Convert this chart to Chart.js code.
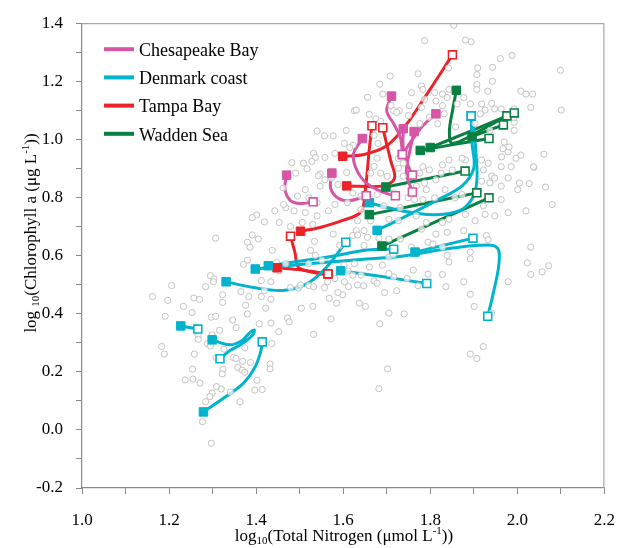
<!DOCTYPE html>
<html><head><meta charset="utf-8">
<script src="https://cdn.jsdelivr.net/npm/chart.js@4.4.0/dist/chart.umd.min.js"></script>
<style>html,body{margin:0;padding:0;background:#fff;}#wrap{width:631px;height:548px;}</style>
</head><body><div id="wrap"><canvas id="c" width="631" height="548"></canvas></div>
<script>
// ---------- DATA ----------
const seriesNames = ['Chesapeake Bay', 'Denmark coast', 'Tampa Bay', 'Wadden Sea'];
const seriesColors = ['#D655A5', '#00B4CD', '#EC2227', '#078041'];
const xTickValues = [1.0, 1.2, 1.4, 1.6, 1.8, 2.0, 2.2];
const yTickValues = [-0.2, 0.0, 0.2, 0.4, 0.6, 0.8, 1.0, 1.2, 1.4];

// background observations: log10 TN and log10 Chl a
const backgroundTN = [
1.540,1.557,1.577,1.607,1.603,1.623,1.532,1.536,1.558,1.581,1.528,1.517,1.482,1.547,1.491,1.547,1.513,1.495,1.521,1.540,
1.566,1.540,1.513,1.487,1.468,1.443,1.401,1.391,1.419,1.453,1.479,1.506,1.530,1.610,1.622,1.626,1.615,1.509,1.573,1.543,
1.588,1.581,1.608,1.558,1.462,1.463,1.656,1.691,1.630,1.710,1.660,1.675,1.716,1.729,1.663,1.671,1.678,1.671,1.680,1.727,
1.738,1.727,1.738,1.701,1.686,1.716,1.731,1.693,1.663,1.678,1.641,1.641,1.708,1.684,1.686,1.723,1.633,1.663,1.705,1.727,
1.630,1.648,
1.854,1.787,1.881,1.894,1.961,1.988,1.772,1.842,1.909,1.907,1.943,1.943,1.780,1.783,1.757,1.810,1.828,1.843,1.907,1.907,
1.932,2.008,2.020,2.035,2.031,1.752,1.787,1.813,1.828,1.877,1.892,1.918,1.941,1.926,1.948,1.963,1.993,1.993,1.993,1.915,
1.832,1.817,1.798,1.780,1.776,1.858,1.903,1.937,1.750,1.839,1.862,1.992,1.967,1.979,1.964,1.997,2.008,2.061,2.038,1.986,
1.963,1.933,1.918,1.881,1.873,1.843,1.828,1.825,1.851,1.922,1.941,1.948,1.918,1.937,1.963,1.979,2.005,2.027,2.065,2.001,
1.963,1.922,1.979,2.020,1.948,1.926,1.903,1.881,1.843,1.828,1.791,1.768,1.780,1.877,1.783,1.776,1.798,1.813,1.787,1.768,
1.791,1.810,1.783,1.834,1.857,1.873,1.764,1.749,1.970,1.981,2.037,
2.099,2.101,2.080,
1.307,1.391,1.380,1.405,1.386,1.437,1.534,1.577,1.371,1.380,1.447,1.468,1.536,1.525,1.521,1.551,1.453,1.412,1.419,1.434,
1.434,1.295,1.303,1.302,1.284,1.206,1.162,1.197,1.233,1.257,1.270,1.323,1.323,1.365,1.383,1.412,1.479,1.497,1.502,1.521,
1.532,1.557,1.564,1.581,1.568,1.504,1.530,1.572,1.532,1.472,1.476,1.452,1.436,1.407,1.434,1.376,1.380,1.422,1.346,1.354,
1.316,1.297,1.307,1.253,1.191,1.299,1.267,1.267,1.288,1.295,1.258,1.183,1.189,1.326,1.309,1.348,1.354,1.369,1.374,1.387,
1.358,1.368,1.374,1.324,1.322,1.254,1.237,1.255,1.271,1.309,1.320,1.299,1.294,1.284,1.341,1.363,1.402,1.397,1.414,1.432,
1.432,1.277,1.297,
1.622,1.633,1.656,1.682,1.705,1.731,1.757,1.795,1.806,1.828,1.839,1.843,1.892,1.892,1.929,1.933,2.031,2.023,2.031,2.057,
2.072,1.979,1.877,1.836,1.828,1.795,1.772,1.761,1.747,1.716,1.705,1.723,1.695,1.671,1.678,1.660,1.690,1.705,1.715,1.602,
1.626,1.611,1.622,1.641,1.603,1.612,1.633,1.647,1.599,1.588,1.637,1.651,1.705,1.740,1.684,1.892,1.901,1.922,1.892,1.907,
1.941,1.702,1.682,1.585,1.592,1.648,1.813,1.839
];
const backgroundChl = [
1.029,1.012,1.012,1.031,0.986,0.980,0.952,0.938,0.938,0.952,0.924,0.899,0.920,0.881,0.884,0.839,0.827,0.805,0.799,0.782,
0.754,0.737,0.748,0.754,0.765,0.754,0.740,0.731,0.716,0.714,0.700,0.714,0.708,0.782,0.816,1.099,0.972,0.918,0.867,0.875,
0.844,0.776,0.886,0.861,0.833,0.776,1.145,1.156,1.101,1.116,1.086,1.071,1.099,1.099,0.884,0.907,0.935,1.014,0.986,0.935,
0.918,0.901,0.873,0.873,0.884,0.816,0.765,0.771,0.793,0.810,0.805,0.759,1.218,1.190,1.062,1.093,0.720,0.720,0.725,0.720,
0.686,0.686,
1.393,1.340,1.342,1.336,1.278,1.289,1.226,1.246,1.246,1.223,1.248,1.200,1.184,1.172,1.161,1.161,1.156,1.172,1.189,1.172,
1.166,1.166,1.156,1.156,1.110,1.116,1.138,1.132,1.116,1.144,1.122,1.122,1.124,1.101,1.105,1.105,1.105,1.059,1.031,1.088,
1.088,1.054,1.076,1.110,1.054,1.043,1.054,1.031,1.082,1.144,1.122,1.074,0.968,0.957,0.940,0.935,0.946,0.949,0.904,0.906,
0.906,0.918,0.929,0.929,0.935,0.929,0.912,0.884,0.895,0.895,0.874,0.867,0.856,0.850,0.839,0.867,0.850,0.848,0.836,0.827,
0.793,0.771,0.748,0.754,0.737,0.742,0.720,0.742,0.725,0.714,0.714,0.737,0.691,0.686,0.906,0.884,0.895,0.861,0.850,0.839,
0.827,0.799,0.793,0.827,0.799,0.810,0.793,0.799,0.991,0.974,0.906,
1.238,1.101,0.776,
0.660,0.671,0.646,0.657,0.629,0.618,0.649,0.674,0.570,0.584,0.576,0.572,0.601,0.618,0.572,0.584,0.548,0.514,0.480,0.510,
0.450,0.531,0.520,0.510,0.493,0.497,0.459,0.446,0.425,0.454,0.449,0.465,0.439,0.476,0.459,0.459,0.490,0.488,0.499,0.497,
0.493,0.490,0.510,0.521,0.453,0.419,0.425,0.382,0.329,0.385,0.372,0.338,0.297,0.365,0.368,0.429,0.399,0.419,0.378,0.352,
0.343,0.388,0.391,0.404,0.391,0.327,0.326,0.312,0.297,0.289,0.261,0.287,0.261,0.278,0.249,0.249,0.246,0.236,0.283,0.232,
0.215,0.206,0.198,0.209,0.193,0.209,0.172,0.175,0.161,0.149,0.141,0.127,0.115,0.097,0.130,0.097,0.171,0.137,0.139,0.227,
0.210,0.028,-0.046,
0.669,0.671,0.663,0.660,0.657,0.657,0.629,0.646,0.640,0.629,0.601,0.578,0.612,0.589,0.669,0.655,0.629,0.575,0.535,0.544,
0.565,0.510,0.510,0.493,0.535,0.536,0.496,0.550,0.521,0.527,0.538,0.479,0.473,0.513,0.505,0.561,0.567,0.595,0.603,0.567,
0.572,0.547,0.533,0.533,0.510,0.493,0.499,0.496,0.465,0.473,0.436,0.425,0.402,0.399,0.365,0.467,0.425,0.287,0.261,0.246,
0.402,0.210,0.142,0.436,0.635,0.635,0.674,0.680
];

// trajectories (first point = start, last point = end)
const chesapeakeTN = [
  [1.470,1.466,1.479,1.502,1.531],
  [1.574,1.571,1.587,1.614,1.653],
  [1.644,1.624,1.630,1.653,1.689,1.720],
  [1.711,1.700,1.716,1.732,1.736],
  [1.738,1.738,1.747,1.759],
  [1.763,1.752,1.745,1.759],
  [1.813,1.783,1.756,1.736]
];
const chesapeakeChl = [
  [0.877,0.830,0.789,0.779,0.785],
  [0.884,0.833,0.799,0.789,0.806],
  [1.003,0.952,0.898,0.850,0.819,0.806],
  [1.149,1.098,1.054,1.003,0.948],
  [1.037,0.969,0.918,0.877],
  [1.027,0.952,0.884,0.819],
  [1.088,1.047,0.993,0.948]
];
const denmarkTN = [
  [1.227,1.266],
  [1.299,1.338,1.367,1.385,1.396,1.392,1.367,1.340,1.317],
  [1.279,1.329,1.371,1.396,1.410,1.414],
  [1.331,1.394,1.461,1.513,1.558,1.606],
  [1.428,1.565,1.655,1.716],
  [1.398,1.513,1.626,1.738,1.851,1.941,1.957,1.957,1.943,1.932],
  [1.594,1.693,1.792],
  [1.765,1.832,1.898],
  [1.678,1.738,1.817,1.873,1.900,1.896,1.894],
  [1.660,1.732,1.806,1.867,1.896,1.907,1.905,1.900,1.894]
];
const denmarkChl = [
  [0.358,0.347],
  [0.310,0.293,0.307,0.334,0.344,0.327,0.296,0.273,0.245],
  [0.062,0.113,0.161,0.212,0.266,0.303],
  [0.510,0.490,0.480,0.500,0.554,0.646],
  [0.565,0.595,0.619,0.622],
  [0.554,0.571,0.585,0.599,0.626,0.636,0.619,0.561,0.459,0.391],
  [0.548,0.527,0.504],
  [0.612,0.636,0.660],
  [0.687,0.731,0.792,0.840,0.901,0.986,1.081],
  [0.782,0.755,0.741,0.755,0.796,0.857,0.952,1.037,1.081]
];
const tampaTN = [
  [1.502,1.547,1.599,1.641,1.650,1.655,1.659,1.666],
  [1.599,1.648,1.698,1.738,1.795,1.851],
  [1.608,1.693,1.718,1.709,1.698,1.691],
  [1.448,1.502,1.547,1.565],
  [1.565,1.530,1.498,1.489,1.479]
];
const tampaChl = [
  [0.684,0.697,0.721,0.751,0.816,0.884,0.952,1.047],
  [0.942,0.948,0.976,1.037,1.162,1.291],
  [0.840,0.840,0.867,0.928,0.996,1.040],
  [0.558,0.551,0.537,0.537],
  [0.537,0.545,0.558,0.612,0.667]
];
const waddenTN = [
  [1.860,1.851,1.844,1.851,1.918,1.976],
  [1.777,1.856,1.935],
  [1.800,1.897,1.993],
  [1.896,1.968],
  [1.698,1.880],
  [1.660,1.907],
  [1.689,1.935]
];
const waddenChl = [
  [1.169,1.098,1.027,0.986,1.033,1.081],
  [0.962,0.983,1.003],
  [0.972,1.031,1.091],
  [1.010,1.050],
  [0.836,0.891],
  [0.741,0.816],
  [0.633,0.799]
];

// ---------- BUILD ----------
const FONT = "'Liberation Serif', 'Times New Roman', serif";
const groupsTN = [chesapeakeTN, denmarkTN, tampaTN, waddenTN];
const groupsChl = [chesapeakeChl, denmarkChl, tampaChl, waddenChl];

const datasets = [];
datasets.push({
  label: 'observations',
  data: backgroundTN.map((x, i) => ({x, y: backgroundChl[i]})),
  pointStyle: 'circle', pointRadius: 3.1, pointBorderWidth: 1,
  borderColor: '#c2c2c2', backgroundColor: 'rgba(255,255,255,0.7)',
  showLine: false, order: 2
});
groupsTN.forEach((grp, g) => {
  const col = seriesColors[g];
  const starts = [], ends = [];
  grp.forEach((xs, k) => {
    const ys = groupsChl[g][k];
    const pts = xs.map((x, i) => ({x, y: ys[i]}));
    datasets.push({
      label: seriesNames[g], data: pts, showLine: true, borderColor: col,
      borderWidth: 3, tension: 0.35, pointRadius: 0, fill: false, order: 3
    });
    starts.push(pts[0]);
    ends.push(pts[pts.length - 1]);
  });
  datasets.push({label: seriesNames[g] + ' start', data: starts, pointStyle: 'rect',
    pointRadius: 6, pointBorderWidth: 1, borderColor: col, backgroundColor: col, showLine: false, order: 1});
  datasets.push({label: seriesNames[g] + ' end', data: ends, pointStyle: 'rect',
    pointRadius: 5.6, pointBorderWidth: 1.6, borderColor: col, backgroundColor: '#ffffff', showLine: false, order: 0});
});

function richText(ctx, parts, cx, cy) {
  let w = 0;
  parts.forEach(p => { ctx.font = p.s + 'px ' + FONT; w += ctx.measureText(p.t).width; });
  let x = cx - w / 2;
  parts.forEach(p => {
    ctx.font = p.s + 'px ' + FONT;
    ctx.fillText(p.t, x, cy + (p.dy || 0));
    x += ctx.measureText(p.t).width;
  });
}

const decor = {
  id: 'decor',
  afterDraw(chart) {
    const ctx = chart.ctx, a = chart.chartArea;
    ctx.save();
    // frame top/right
    ctx.strokeStyle = '#a8a8a8'; ctx.lineWidth = 1.2;
    ctx.beginPath();
    ctx.moveTo(a.left, a.top + 0.5); ctx.lineTo(a.right - 0.5, a.top + 0.5); ctx.lineTo(a.right - 0.5, a.bottom);
    ctx.stroke();
    // legend
    ctx.textBaseline = 'middle'; ctx.textAlign = 'left';
    seriesNames.forEach((n, i) => {
      const y = a.top + 26 + i * 28.2;
      ctx.strokeStyle = seriesColors[i]; ctx.lineWidth = 4;
      ctx.beginPath(); ctx.moveTo(a.left + 22, y); ctx.lineTo(a.left + 52, y); ctx.stroke();
      ctx.fillStyle = '#000'; ctx.font = '18px ' + FONT;
      ctx.fillText(n, a.left + 57, y + 2);
    });
    // axis titles
    ctx.fillStyle = '#000'; ctx.textBaseline = 'alphabetic'; ctx.textAlign = 'left';
    richText(ctx, [
      {t: 'log', s: 17}, {t: '10', s: 11, dy: 3}, {t: '(Total Nitrogen (\u03bcmol L', s: 17},
      {t: '-1', s: 11, dy: -7}, {t: '))', s: 17}], 344, 541);
    ctx.translate(36, 233); ctx.rotate(-Math.PI / 2);
    richText(ctx, [
      {t: 'log ', s: 17}, {t: '10', s: 11, dy: 3}, {t: '(Chlorophyll a (\u03bcg L', s: 17},
      {t: '-1', s: 11, dy: -7}, {t: '))', s: 17}], 0, 0);
    ctx.restore();
  }
};

function tickLabel(v) {
  const k = Math.round(v * 10);
  if (k % 2 !== 0) return '';
  return (k / 10).toFixed(1);
}

new Chart(document.getElementById('c'), {
  type: 'scatter',
  data: {datasets},
  options: {
    responsive: false, animation: false, devicePixelRatio: 1,
    layout: {padding: {left: 0, right: 16, top: 18, bottom: 0}},
    plugins: {legend: {display: false}, tooltip: {enabled: false}},
    scales: {
      x: {
        type: 'linear', min: xTickValues[0], max: xTickValues[xTickValues.length - 1],
        afterFit(s) { s.height = 60; },
        ticks: {stepSize: 0.1, autoSkip: false, maxRotation: 0, padding: 16, color: '#000',
          font: {family: FONT, size: 17}, callback: tickLabel},
        grid: {drawOnChartArea: false, drawTicks: true, tickLength: 6, color: '#8a8a8a'},
        border: {display: true, color: '#8a8a8a', width: 1.2}
      },
      y: {
        type: 'linear', min: yTickValues[0], max: yTickValues[yTickValues.length - 1],
        afterFit(s) { s.width = 82; },
        ticks: {stepSize: 0.1, autoSkip: false, padding: 13, color: '#000',
          font: {family: FONT, size: 17}, callback: tickLabel},
        grid: {drawOnChartArea: false, drawTicks: true, tickLength: 6, color: '#8a8a8a'},
        border: {display: true, color: '#8a8a8a', width: 1.2}
      }
    }
  },
  plugins: [decor]
});
</script></body></html>
